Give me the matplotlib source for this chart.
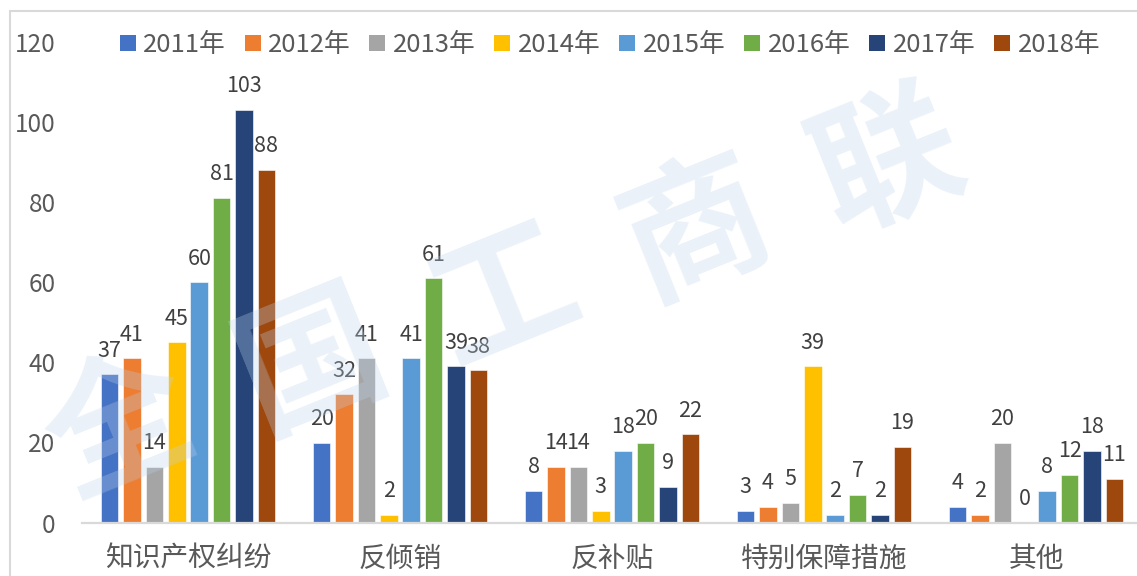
import matplotlib
matplotlib.use("Agg")
import matplotlib.pyplot as plt
import numpy as np
from matplotlib.patches import Patch, Rectangle

plt.rcParams['font.family'] = ['Noto Sans CJK SC', 'DejaVu Sans']

categories = ['知识产权纠纷', '反倾销', '反补贴', '特别保障措施', '其他']
years = ['2011年', '2012年', '2013年', '2014年', '2015年', '2016年', '2017年', '2018年']

v2011 = [37, 20, 8, 3, 4]
v2012 = [41, 32, 14, 4, 2]
v2013 = [14, 41, 14, 5, 20]
v2014 = [45, 2, 3, 39, 0]
v2015 = [60, 41, 18, 2, 8]
v2016 = [81, 61, 20, 7, 12]
v2017 = [103, 39, 9, 2, 18]
v2018 = [88, 38, 22, 19, 11]
series = [v2011, v2012, v2013, v2014, v2015, v2016, v2017, v2018]

colors = ['#4472C4', '#ED7D31', '#A5A5A5', '#FFC000',
          '#5B9BD5', '#70AD47', '#264478', '#9E480E']

W, H = 1137, 576
fig = plt.figure(figsize=(W / 100, H / 100), dpi=100)

# axes placed in pixel terms: x axis starts at 82px, each category is 212px wide
cat_px = 212.0
left_px, zero_px, top_px = 82, 522.7, 41.5
ax = fig.add_axes([left_px / W, (H - zero_px) / H,
                   (W - left_px) / W, (zero_px - top_px) / H])
ax.set_xlim(-0.5, -0.5 + (W - left_px) / cat_px)
ax.set_ylim(0, 120)

x = np.arange(len(categories))
pitch = 22.4 / cat_px
bw = 17.5 / cat_px
for j, (vals, c, yr) in enumerate(zip(series, colors, years)):
    bars = ax.bar(x + (j - 3.5) * pitch, vals, bw, color=c,
                  edgecolor='white', linewidth=0.4, label=yr)
    ax.bar_label(bars, padding=9, fontsize=15.5, color='#404040')

ax.set_xticks(x)
ax.set_xticklabels(categories, fontsize=20, color='#595959')
ax.set_yticks(np.arange(0, 121, 20))
ax.tick_params(axis='y', length=0, pad=19, labelsize=17.5, labelcolor='#595959')
ax.tick_params(axis='x', length=0, pad=15)
for s in ['left', 'right', 'top']:
    ax.spines[s].set_visible(False)
ax.spines['bottom'].set_color('#D9D9D9')
ax.spines['bottom'].set_linewidth(1.6)

handles = [Patch(facecolor=c, label=yr) for c, yr in zip(colors, years)]
fig.legend(handles=handles, loc='center', bbox_to_anchor=(610 / W, 1 - 45 / H),
           ncol=8, frameon=False, fontsize=18.5, handlelength=0.62,
           handleheight=0.62, handletextpad=0.3, columnspacing=0.72,
           labelcolor='#595959')

# outer chart border (cropped at right and bottom)
fig.patches.append(Rectangle((9.5 / W, -0.5), 2, 1.5 - 11 / H,
                             transform=fig.transFigure, fill=False,
                             edgecolor='#D9D9D9', linewidth=1.5))

# watermark
wm = '全国工商联'
xs = np.linspace(120, 890, len(wm))
ys = np.linspace(430, 165, len(wm))
for ch, px, py in zip(wm, xs, ys):
    fig.text(px / W, 1 - py / H, ch, rotation=22, fontsize=104,
             fontweight='bold', color='#BDD3EB', alpha=0.3,
             ha='center', va='center', zorder=10)

fig.savefig('out.png', dpi=100)
